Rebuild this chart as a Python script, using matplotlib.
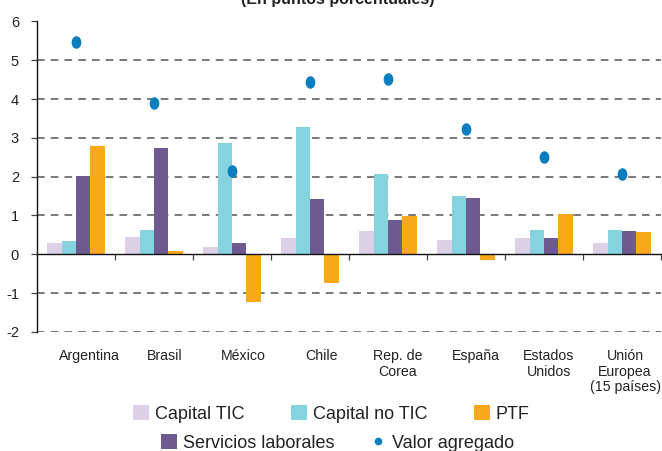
import matplotlib
matplotlib.use('Agg')
import matplotlib.pyplot as plt
import numpy as np
from matplotlib.path import Path
from matplotlib.lines import Line2D
from matplotlib.patches import Patch
import matplotlib.transforms as mtransforms

plt.rcParams['font.family'] = ['Liberation Sans', 'DejaVu Sans']

categories = ['Argentina', 'Brasil', 'México', 'Chile', 'Rep. de\nCorea', 'España',
              'Estados\nUnidos', 'Unión\nEuropea\n(15 países)']
capital_tic = [0.28, 0.45, 0.20, 0.42, 0.59, 0.36, 0.42, 0.28]
capital_no_tic = [0.34, 0.62, 2.87, 3.27, 2.06, 1.49, 0.62, 0.62]
servicios_laborales = [2.03, 2.73, 0.28, 1.43, 0.89, 1.46, 0.42, 0.59]
ptf = [2.79, 0.08, -1.24, -0.73, 0.98, -0.14, 1.05, 0.57]
valor_agregado = [5.46, 3.89, 2.14, 4.43, 4.53, 3.22, 2.50, 2.06]
yticks = [-2, -1, 0, 1, 2, 3, 4, 5, 6]
title = '(En puntos porcentuales)'

c_tic = '#dcd0e6'
c_notic = '#86d3e0'
c_serv = '#6e5a90'
c_ptf = '#f9a81c'
c_va = '#0a7dbf'

fig = plt.figure(figsize=(6.62, 4.51), dpi=100)
ax = fig.add_axes([37/662, 1-331.9/451, 624/662, (331.9-21.5)/451])

x = np.arange(len(categories))
w = 0.185
series = [(capital_tic, c_tic), (capital_no_tic, c_notic), (servicios_laborales, c_serv), (ptf, c_ptf)]
for i, (vals, col) in enumerate(series):
    ax.bar(x + (i - 1.5) * w, vals, width=w, color=col, zorder=3, linewidth=0)

# elliptical marker (slightly taller than wide)
circ = Path.unit_circle()
verts = circ.vertices.copy()
verts[:, 0] *= 0.75
ell = Path(verts, circ.codes)
ax.plot(x, valor_agregado, linestyle='none', marker=ell, markersize=8,
        color=c_va, zorder=4)

ax.set_xlim(-0.5, len(categories) - 0.5)
ax.set_ylim(-2, 6)
ax.set_yticks(yticks)
ax.set_yticklabels([str(v) for v in yticks], fontsize=10.5, color='#222222')
ax.tick_params(axis='y', length=4, width=0.9, color='#444444', pad=9)

for v in yticks:
    if v != 0:
        ax.axhline(v, color='#555555', linewidth=1.1, linestyle=(0, (5, 4)), zorder=1)

for s in ['top', 'right']:
    ax.spines[s].set_visible(False)
ax.spines['left'].set_linewidth(1.0)
ax.spines['left'].set_color('#111111')
ax.spines['bottom'].set_position(('data', 0))
ax.spines['bottom'].set_linewidth(1.0)
ax.spines['bottom'].set_color('#111111')
ax.spines['bottom'].set_zorder(5)
ax.set_xticks(np.arange(len(categories)) + 0.5)
ax.set_xticklabels([])
ax.tick_params(axis='x', length=4, width=0.9, color='#444444', direction='out')

trans = mtransforms.blended_transform_factory(ax.transData, ax.transAxes)
label_shift_px = [13, 11, 11, 11, 10, 10, 5, 3]
for xi, lab, sh in zip(x, categories, label_shift_px):
    off = mtransforms.ScaledTranslation(sh/100, 0, fig.dpi_scale_trans)
    ax.text(xi, -0.055, lab, transform=trans + off, ha='center', va='top',
            fontsize=10.2, color='#222222', linespacing=1.15)

fig.text(338/662, 1 - 4/451, title, ha='center', va='baseline',
         fontsize=11.5, fontweight='bold', color='#222222')

h1 = [Patch(facecolor=c_tic, edgecolor='none'),
      Patch(facecolor=c_notic, edgecolor='none'),
      Patch(facecolor=c_ptf, edgecolor='none')]
l1 = ['Capital TIC', 'Capital no TIC', 'PTF']
leg1 = fig.legend(h1, l1, loc='center left', bbox_to_anchor=(133/662, 1 - 414/451),
                  ncol=3, frameon=False, fontsize=13, borderpad=0, borderaxespad=0,
                  handlelength=0.9, handleheight=0.9, handletextpad=0.3,
                  columnspacing=2.6)
for t in leg1.get_texts():
    t.set_color('#222222')

h2 = [Patch(facecolor=c_serv, edgecolor='none'),
      Line2D([], [], linestyle='none', marker='o', markersize=4.5, color=c_va)]
l2 = ['Servicios laborales', 'Valor agregado']
leg2 = fig.legend(h2, l2, loc='center left', bbox_to_anchor=(161/662, 1 - 443/451),
                  ncol=2, frameon=False, fontsize=13, borderpad=0, borderaxespad=0,
                  handlelength=0.9, handleheight=0.9, handletextpad=0.3,
                  columnspacing=2.0)
for t in leg2.get_texts():
    t.set_color('#222222')

fig.savefig('out.png', dpi=100)
